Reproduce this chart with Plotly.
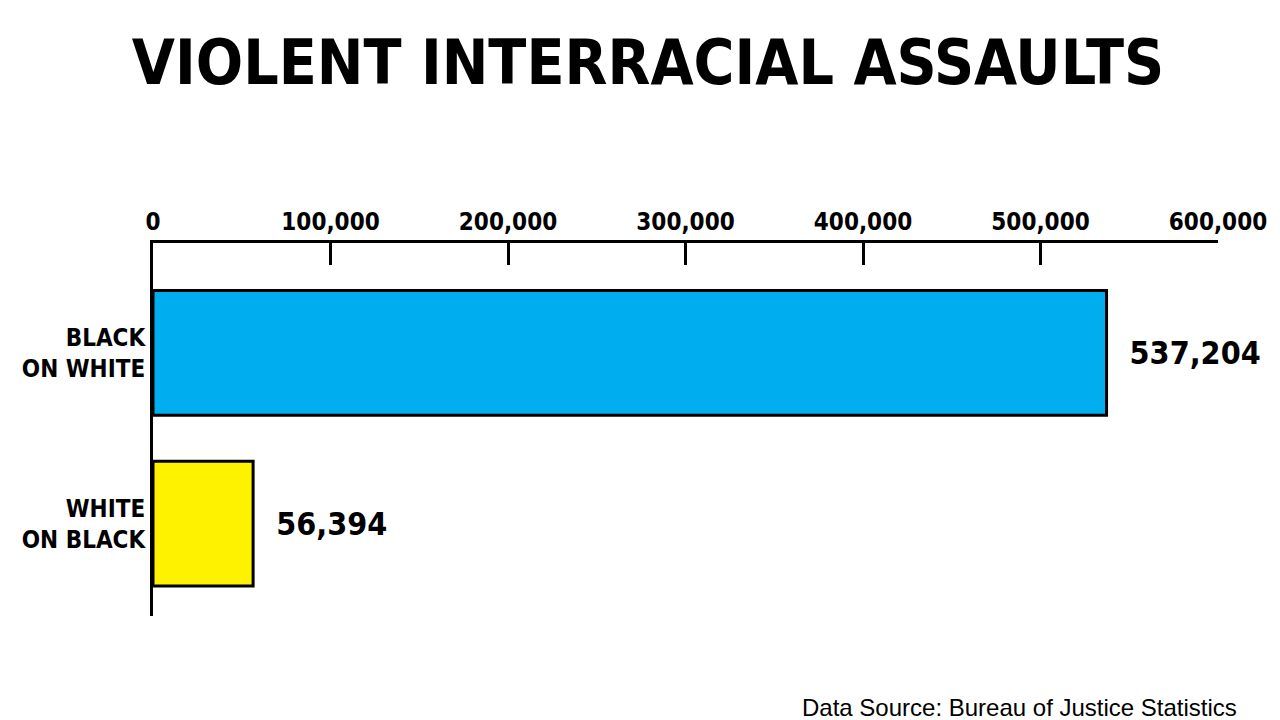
import plotly.graph_objects as go

categories = ["BLACK<br>ON WHITE", "WHITE<br>ON BLACK"]
values = [537204, 56394]
value_labels = ["  537,204", "  56,394"]
colors = ["#00AEEF", "#FFF200"]
tick_vals = [0, 100000, 200000, 300000, 400000, 500000, 600000]
tick_text = ["0", "100,000", "200,000", "300,000", "400,000", "500,000", "600,000"]

FONT = "DejaVu Sans Condensed, Liberation Sans Narrow, Roboto, sans-serif"

fig = go.Figure(go.Bar(
    x=values, y=[0, 1], orientation="h", width=0.73,
    marker=dict(color=colors, line=dict(color="black", width=3)),
    text=[f"<b>{t}</b>" for t in value_labels], textposition="outside", cliponaxis=False,
    textfont=dict(family=FONT, size=32, color="black"),
))
fig.update_layout(
    width=1280, height=720, paper_bgcolor="white", plot_bgcolor="white",
    margin=dict(l=145, r=70, t=235, b=112), showlegend=False,
    title=dict(text="<b>VIOLENT INTERRACIAL ASSAULTS</b>", x=0.5, xanchor="center",
               y=0.955, yanchor="top",
               font=dict(family=FONT, size=62, color="black")),
    xaxis=dict(side="top", range=[0, 600000], tickvals=tick_vals,
               ticktext=[f"<b>{t}</b>" for t in tick_text],
               showgrid=False, zeroline=False, showline=True, linecolor="black", linewidth=3,
               ticks="inside", ticklen=22, tickwidth=3, tickcolor="black",
               tickfont=dict(family=FONT, size=24, color="black"), automargin=False),
    yaxis=dict(range=[1.54, -0.643], tickvals=[0, 1], ticktext=[f"<b>{c}</b>" for c in categories],
               showgrid=False, zeroline=False, showline=True, linecolor="black", linewidth=3,
               ticks="", tickfont=dict(family=FONT, size=24, color="black"), automargin=False),
    annotations=[dict(text="Data Source: Bureau of Justice Statistics", xref="paper", yref="paper",
                      x=1.02, y=-0.205, xanchor="right", yanchor="top", showarrow=False,
                      font=dict(family="Liberation Sans, Arial, sans-serif", size=24, color="black"))],
)
fig.write_html("out.html")
